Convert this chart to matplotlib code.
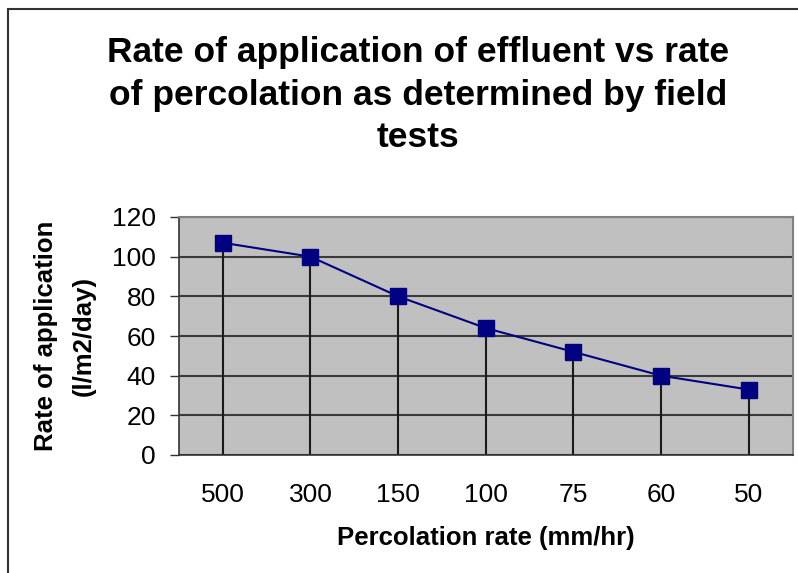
import matplotlib
matplotlib.use("Agg")
import matplotlib.pyplot as plt
from matplotlib.patches import Rectangle

categories = ["500", "300", "150", "100", "75", "60", "50"]
values = [107, 100, 80, 64, 52, 40, 33]
yticks = [0, 20, 40, 60, 80, 100, 120]

plt.rcParams['font.family'] = ['Liberation Sans', 'DejaVu Sans']

W, H = 798, 573
fig = plt.figure(figsize=(W / 100, H / 100), dpi=100)
ax = fig.add_axes([179 / W, (H - 455) / H, (792.5 - 179) / W, (455 - 217) / H])
ax.set_facecolor('#c0c0c0')

x = list(range(len(categories)))
ax.vlines(x, 0, values, colors='#1a1a1a', linewidth=1.5, zorder=2)
ax.plot(x, values, color='#000080', linewidth=1.5, marker='s', markersize=11,
        markerfacecolor='#000080', markeredgecolor='#000080', zorder=3)

ax.set_xlim(-0.5, len(categories) - 0.5)
ax.set_ylim(0, 120)
ax.set_yticks(yticks)
ax.set_yticklabels([str(v) for v in yticks], fontsize=19)
ax.set_xticks(x)
ax.set_xticklabels(categories, fontsize=19)
ax.tick_params(axis='x', length=0, pad=20)
ax.tick_params(axis='y', length=6.5, width=1, color='#333333', direction='out', pad=10)
ax.yaxis.grid(True, color='#3a3a3a', linewidth=1.5, zorder=1)
ax.set_axisbelow(True)

for s in ['top', 'right']:
    ax.spines[s].set_color('#808080')
    ax.spines[s].set_linewidth(1.5)
ax.spines['left'].set_color('#333333')
ax.spines['bottom'].set_color('#333333')
ax.spines['left'].set_linewidth(1.2)
ax.spines['bottom'].set_linewidth(1.2)

ax.set_xlabel('Percolation rate (mm/hr)', fontsize=18.5, fontweight='bold', labelpad=14)
ax.set_ylabel('Rate of application\n(l/m2/day)', fontsize=18.5, fontweight='bold',
              labelpad=12, linespacing=1.7)

fig.text(418 / W, 1 - 95 / H,
         'Rate of application of effluent vs rate\nof percolation as determined by field\ntests',
         ha='center', va='center', fontsize=25.5, fontweight='bold', linespacing=1.37)

fig.patches.append(Rectangle((8 / W, -0.1), 1.2, 1 - 9 / H + 0.1, transform=fig.transFigure,
                             fill=False, edgecolor='#333333', linewidth=1.5))

fig.savefig('out.png', dpi=100)
